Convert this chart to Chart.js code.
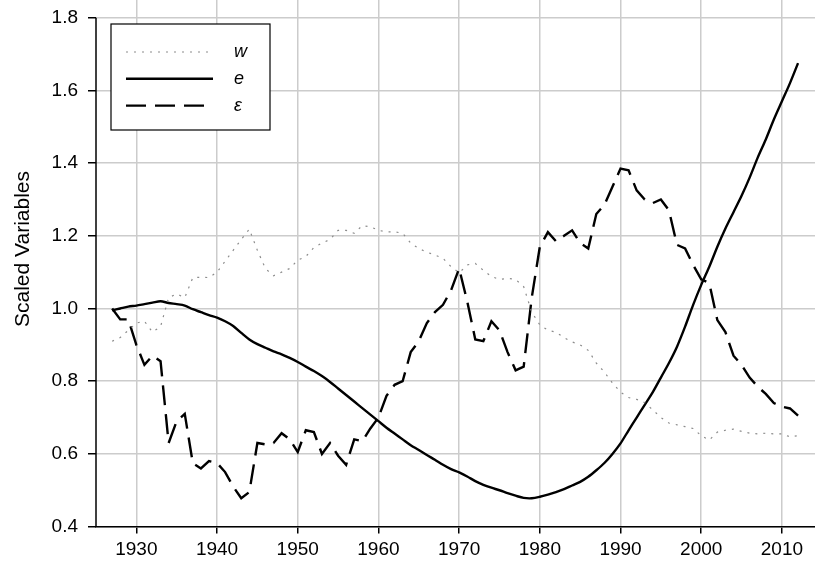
<!DOCTYPE html>
<html>
<head>
<meta charset="utf-8">
<script src="https://cdn.jsdelivr.net/npm/chart.js@4.4.1/dist/chart.umd.min.js"></script>
<style>
  html, body { margin: 0; padding: 0; background: #fff; }
</style>
</head>
<body>
<canvas id="scaled-chart" width="815" height="564"></canvas>
<script>
// scaled variables w, e and epsilon, 1927-2012

const YEARS = [
    1927, 1928, 1929, 1930, 1931, 1932, 1933, 1934, 1935, 1936,
    1937, 1938, 1939, 1940, 1941, 1942, 1943, 1944, 1945, 1946,
    1947, 1948, 1949, 1950, 1951, 1952, 1953, 1954, 1955, 1956,
    1957, 1958, 1959, 1960, 1961, 1962, 1963, 1964, 1965, 1966,
    1967, 1968, 1969, 1970, 1971, 1972, 1973, 1974, 1975, 1976,
    1977, 1978, 1979, 1980, 1981, 1982, 1983, 1984, 1985, 1986,
    1987, 1988, 1989, 1990, 1991, 1992, 1993, 1994, 1995, 1996,
    1997, 1998, 1999, 2000, 2001, 2002, 2003, 2004, 2005, 2006,
    2007, 2008, 2009, 2010, 2011, 2012
];

const W_VALUES = [
    0.91, 0.92, 0.94, 0.96, 0.965, 0.935, 0.95, 1.03, 1.04, 1.03,
    1.085, 1.086, 1.085, 1.10, 1.13, 1.16, 1.19, 1.218, 1.16, 1.11,
    1.09, 1.10, 1.11, 1.133, 1.143, 1.168, 1.18, 1.19, 1.215, 1.215,
    1.207, 1.228, 1.225, 1.215, 1.211, 1.211, 1.207, 1.18, 1.165, 1.155,
    1.147, 1.138, 1.115, 1.098, 1.12, 1.124, 1.105, 1.088, 1.08, 1.083,
    1.08, 1.06, 0.99, 0.955, 0.94, 0.935, 0.92, 0.908, 0.90, 0.885,
    0.85, 0.825, 0.795, 0.77, 0.755, 0.75, 0.741, 0.721, 0.70, 0.685,
    0.68, 0.675, 0.67, 0.65, 0.638, 0.66, 0.665, 0.668, 0.662, 0.657,
    0.655, 0.657, 0.655, 0.655, 0.647, 0.65
];

const E_VALUES = [
    0.995, 1.0, 1.005, 1.008, 1.012, 1.016, 1.02, 1.015, 1.012, 1.008,
    0.998, 0.99, 0.982, 0.975, 0.965, 0.952, 0.933, 0.915, 0.902, 0.892,
    0.882, 0.874, 0.864, 0.853, 0.84, 0.828, 0.814, 0.798, 0.78, 0.762,
    0.744, 0.726, 0.708, 0.69, 0.672, 0.656, 0.64, 0.624, 0.611, 0.597,
    0.584, 0.57, 0.558, 0.549, 0.538, 0.525, 0.515, 0.507, 0.50, 0.492,
    0.485, 0.479, 0.478, 0.482, 0.488, 0.495, 0.503, 0.513, 0.523, 0.537,
    0.555, 0.575, 0.60, 0.629, 0.665, 0.70, 0.735, 0.77, 0.81, 0.85,
    0.895, 0.95, 1.01, 1.065, 1.115, 1.17, 1.22, 1.265, 1.31, 1.36,
    1.415, 1.465, 1.52, 1.57, 1.62, 1.675
];

const EPS_VALUES = [
    1.00, 0.97, 0.97, 0.90, 0.845, 0.87, 0.855, 0.63, 0.69, 0.71,
    0.574, 0.56, 0.58, 0.575, 0.55, 0.51, 0.478, 0.495, 0.63, 0.626,
    0.63, 0.657, 0.64, 0.605, 0.665, 0.66, 0.60, 0.63, 0.595, 0.57,
    0.64, 0.635, 0.67, 0.70, 0.76, 0.79, 0.80, 0.88, 0.91, 0.96,
    0.99, 1.01, 1.05, 1.11, 1.02, 0.915, 0.91, 0.965, 0.94, 0.88,
    0.83, 0.84, 1.03, 1.17, 1.21, 1.185, 1.20, 1.215, 1.18, 1.165,
    1.26, 1.285, 1.335, 1.385, 1.38, 1.325, 1.30, 1.29, 1.30, 1.27,
    1.175, 1.165, 1.12, 1.08, 1.07, 0.968, 0.935, 0.87, 0.845, 0.81,
    0.785, 0.765, 0.74, 0.73, 0.725, 0.705
];

const Y_TICKS = [0.4, 0.6, 0.8, 1.0, 1.2, 1.4, 1.6, 1.8];
const X_TICKS = [1930, 1940, 1950, 1960, 1970, 1980, 1990, 2000, 2010];
const Y_TITLE = 'Scaled Variables';

const FONT = '"Liberation Sans", Arial, sans-serif';
const NARROW = '"Liberation Sans Narrow", "Arial Narrow", "Liberation Sans", sans-serif';

function toPoints(values) {
    return YEARS.map((yr, i) => ({ x: yr, y: values[i] }));
}

// left axis line only over the labelled range, plus the axis title
const leftAxis = {
    id: 'leftAxis',
    afterDraw(chart) {
        const y = chart.scales.y;
        const ctx = chart.ctx;
        const top = y.getPixelForValue(Y_TICKS[Y_TICKS.length - 1]);
        const bottom = y.getPixelForValue(Y_TICKS[0]);
        ctx.save();
        ctx.strokeStyle = '#000';
        ctx.lineWidth = 1.5;
        ctx.beginPath();
        ctx.moveTo(chart.chartArea.left, top);
        ctx.lineTo(chart.chartArea.left, bottom);
        ctx.stroke();

        ctx.translate(23, 249);
        ctx.rotate(-Math.PI / 2);
        ctx.fillStyle = '#000';
        ctx.font = '21px ' + FONT;
        ctx.textAlign = 'center';
        ctx.textBaseline = 'middle';
        ctx.fillText(Y_TITLE, 0, 0);
        ctx.restore();
    }
};

// boxed legend inside the plot, top left
const legendBox = {
    id: 'legendBox',
    afterDraw(chart) {
        const ctx = chart.ctx;
        ctx.save();
        ctx.fillStyle = '#fff';
        ctx.fillRect(111, 24, 159, 106);
        ctx.strokeStyle = '#000';
        ctx.lineWidth = 1.2;
        ctx.strokeRect(111, 24, 159, 106);
        chart.data.datasets.forEach((ds, i) => {
            const ly = 52 + i * 26.8;
            ctx.strokeStyle = ds.borderColor;
            ctx.lineWidth = ds.borderWidth;
            ctx.setLineDash(ds.borderDash || []);
            ctx.beginPath();
            ctx.moveTo(126, ly);
            ctx.lineTo(213, ly);
            ctx.stroke();
            ctx.setLineDash([]);
            ctx.fillStyle = '#000';
            ctx.font = 'italic 18px ' + FONT;
            ctx.textBaseline = 'middle';
            ctx.fillText(ds.label, 234, ly);
        });
        ctx.restore();
    }
};

const CHART_EL = document.getElementById('scaled-chart');

const scaledChart = new Chart(CHART_EL, {
    type: 'line',
    data: {
        datasets: [
            {
                label: 'w',
                data: toPoints(W_VALUES),
                borderColor: '#8c8c8c',
                borderWidth: 1.2,
                borderDash: [2, 6],
                pointRadius: 0,
                tension: 0,
            },
            {
                label: 'e',
                data: toPoints(E_VALUES),
                borderColor: '#000',
                borderWidth: 2.4,
                pointRadius: 0,
                tension: 0.3,
            },
            {
                label: 'ε',
                data: toPoints(EPS_VALUES),
                borderColor: '#000',
                borderWidth: 2.4,
                borderDash: [20, 9],
                pointRadius: 0,
                tension: 0,
            },
        ],
    },
    options: {
        responsive: false,
        animation: false,
        devicePixelRatio: 1,
        layout: { padding: 0 },
        plugins: {
            legend: { display: false },
            tooltip: { enabled: false },
        },
        scales: {
            x: {
                type: 'linear',
                min: 1925,
                max: 2014.1,
                afterBuildTicks: (scale) => {
                    scale.ticks = X_TICKS.map(v => ({ value: v }));
                },
                afterFit: (scale) => {
                    scale.height = 37.4;
                    scale.paddingLeft = 0;
                    scale.paddingRight = 0;
                },
                grid: {
                    color: '#cccccc',
                    lineWidth: 1.5,
                    tickColor: '#000',
                    tickLength: 7,
                },
                border: { color: '#000', width: 1.5 },
                ticks: {
                    color: '#000',
                    padding: 5,
                    maxRotation: 0,
                    font: { family: NARROW, size: 19 },
                    callback: (v) => String(v),
                },
            },
            y: {
                min: 0.4,
                max: 1.8487,
                afterBuildTicks: (scale) => {
                    scale.ticks = Y_TICKS.map(v => ({ value: v }));
                },
                afterFit: (scale) => {
                    scale.width = 96;
                    scale.paddingTop = 0;
                    scale.paddingBottom = 0;
                },
                grid: {
                    color: '#cccccc',
                    lineWidth: 1.5,
                    tickColor: '#000',
                    tickLength: 8,
                },
                border: { display: false },
                ticks: {
                    color: '#000',
                    padding: 10,
                    font: { family: NARROW, size: 19 },
                    callback: (v) => v.toFixed(1),
                },
            },
        },
    },
    plugins: [leftAxis, legendBox],
});
</script>
</body>
</html>
